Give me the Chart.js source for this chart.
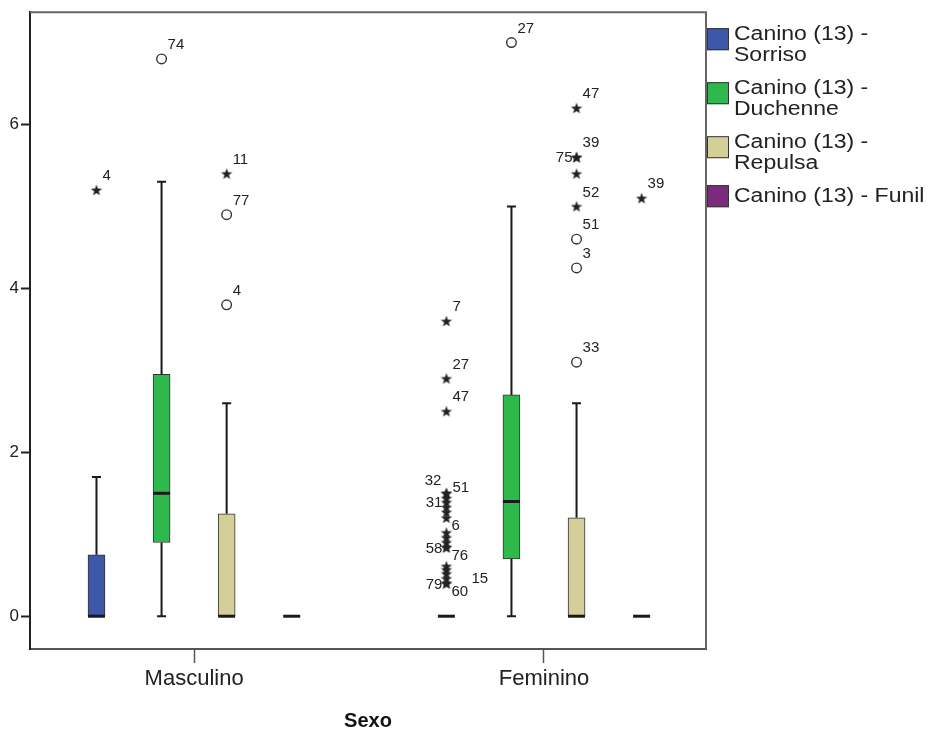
<!DOCTYPE html>
<html>
<head>
<meta charset="utf-8">
<script src="https://cdn.jsdelivr.net/npm/chart.js@4.4.1/dist/chart.umd.min.js"></script>
<style>
html, body { margin: 0; padding: 0; background: #fff; }
</style>
</head>
<body>
<canvas id="boxChart" width="929" height="735"></canvas>
<script>
const groups = ['Masculino', 'Feminino'];
const seriesNames = ['Canino (13) - Sorriso', 'Canino (13) - Duchenne', 'Canino (13) - Repulsa', 'Canino (13) - Funil'];
const seriesColors = ['#3d57a9', '#2fb84b', '#d4cf99', '#7b2a7c'];
const yTicks = [0, 2, 4, 6];

// box stats, one row per series: [Masculino, Feminino]
const mins    = [[0, 0], [0, 0], [0, 0], [0, 0]];
const q1s     = [[0, 0], [0.9, 0.7], [0, 0], [0, 0]];
const medians = [[0, 0], [1.5, 1.4], [0, 0], [0, 0]];
const q3s     = [[0.75, 0], [2.95, 2.7], [1.25, 1.2], [0, 0]];
const maxs    = [[1.7, 0], [5.3, 5.0], [2.6, 2.6], [0, 0]];

// outliers ('o') and extremes ('*') with their case numbers
const outlierValues = [
    [[5.2], [3.6, 2.9, 2.5, 1.5, 1.5, 1.44, 1.39, 1.33, 1.27, 1.2, 1.02, 0.96, 0.9, 0.84, 0.84, 0.61, 0.57, 0.52, 0.46, 0.4, 0.4]],
    [[6.8], [7.0]],
    [[5.4, 4.9, 3.8], [6.2, 5.6, 5.6, 5.4, 5.0, 4.6, 4.25, 3.1]],
    [[], [5.1]]
];
const outlierKinds = [
    [['*'], ['*', '*', '*', '*', '*', '*', '*', '*', '*', '*', '*', '*', '*', '*', '*', '*', '*', '*', '*', '*', '*']],
    [['o'], ['o']],
    [['*', 'o', 'o'], ['*', '*', '*', '*', '*', 'o', 'o', 'o']],
    [[], ['*']]
];
const outlierLabels = [
    [['4'], ['7', '27', '47', '32', '51', '', '31', '', '', '6', '', '', '', '58', '76', '', '', '', '15', '79', '60']],
    [['74'], ['27']],
    [['11', '77', '4'], ['47', '39', '75', '', '52', '51', '3', '33']],
    [[], ['39']]
];
// where each case number sits next to its marker
const labelPlaces = [
    [['ur'], ['ur', 'ur', 'ur', 'ul', 'r', '', 'l', '', '', 'dr', '', '', '', 'l', 'dr', '', '', '', 'far', 'l', 'dr']],
    [['ur'], ['ur']],
    [['ur', 'ur', 'ur'], ['ur', 'ur', 'l', '', 'ur', 'ur', 'ur', 'ur']],
    [[], ['ur']]
];
const placeOffsets = {
    ur: [6, -14, 'left'], ul: [-5, -12, 'right'], l: [-4, 1, 'right'],
    r: [6, -5, 'left'], dr: [5, 8, 'left'], far: [25, 0, 'left']
};

const slotWidth = 0.186;
const slots = [-1.5, -0.5, 0.5, 1.5].map(k => k * slotWidth);
const boxWidth = 17;
const FONT = '"Liberation Sans", Arial, sans-serif';

// small filled star for extreme values
const starImg = document.createElement('canvas');
starImg.width = 14; starImg.height = 14;
(function () {
    const c = starImg.getContext('2d');
    c.fillStyle = '#222';
    c.beginPath();
    for (let i = 0; i < 10; i++) {
        const r = i % 2 === 0 ? 6 : 2.4;
        const a = -Math.PI / 2 + i * Math.PI / 5;
        const px = 7 + r * Math.cos(a), py = 7.5 + r * Math.sin(a);
        if (i === 0) c.moveTo(px, py); else c.lineTo(px, py);
    }
    c.closePath();
    c.fill();
})();

const datasets = [];
seriesNames.forEach((name, s) => {
    datasets.push({
        type: 'bar',
        label: name,
        data: groups.map((g, gi) => ({ x: gi + 1 + slots[s], y: [q1s[s][gi], q3s[s][gi]] })),
        backgroundColor: seriesColors[s],
        borderColor: '#333',
        borderWidth: 1,
        borderSkipped: false,
        barThickness: boxWidth,
        grouped: false,
        order: 2
    });
});
seriesNames.forEach((name, s) => {
    const pts = [];
    groups.forEach((g, gi) => {
        outlierValues[s][gi].forEach((v, k) => {
            pts.push({ x: gi + 1 + slots[s], y: v, kind: outlierKinds[s][gi][k], label: outlierLabels[s][gi][k], place: labelPlaces[s][gi][k] });
        });
    });
    datasets.push({
        type: 'scatter',
        label: name + ' outliers',
        data: pts,
        pointStyle: (ctx) => (ctx.raw && ctx.raw.kind === '*') ? starImg : 'circle',
        pointRadius: 4.8,
        pointHoverRadius: 4.8,
        borderWidth: 1.4,
        borderColor: '#333',
        backgroundColor: '#fff',
        order: 1
    });
});

function wrapText(ctx, text, maxW, sx) {
    const words = text.split(' ');
    const lines = [];
    let cur = '';
    for (const w of words) {
        const test = cur ? cur + ' ' + w : w;
        if (ctx.measureText(test).width * sx > maxW && cur) {
            lines.push(cur);
            cur = w;
        } else {
            cur = test;
        }
    }
    if (cur) lines.push(cur);
    return lines;
}

const boxPlotPlugin = {
    id: 'boxPlotParts',
    afterDatasetsDraw(chart) {
        const ctx = chart.ctx;
        const xs = chart.scales.x, ys = chart.scales.y;
        ctx.save();
        ctx.strokeStyle = '#1a1a1a';
        seriesNames.forEach((name, s) => {
            groups.forEach((g, gi) => {
                const x = xs.getPixelForValue(gi + 1 + slots[s]);
                const yq1 = ys.getPixelForValue(q1s[s][gi]);
                const yq3 = ys.getPixelForValue(q3s[s][gi]);
                const yMin = ys.getPixelForValue(mins[s][gi]);
                const yMax = ys.getPixelForValue(maxs[s][gi]);
                ctx.lineWidth = 2;
                if (maxs[s][gi] > q3s[s][gi]) {
                    ctx.beginPath();
                    ctx.moveTo(x, yq3); ctx.lineTo(x, yMax);
                    ctx.moveTo(x - 4.5, yMax); ctx.lineTo(x + 4.5, yMax);
                    ctx.stroke();
                }
                if (mins[s][gi] < q1s[s][gi]) {
                    ctx.beginPath();
                    ctx.moveTo(x, yq1); ctx.lineTo(x, yMin);
                    ctx.moveTo(x - 4.5, yMin); ctx.lineTo(x + 4.5, yMin);
                    ctx.stroke();
                }
                const yMed = ys.getPixelForValue(medians[s][gi]);
                ctx.lineWidth = 3;
                ctx.beginPath();
                ctx.moveTo(x - boxWidth / 2, yMed); ctx.lineTo(x + boxWidth / 2, yMed);
                ctx.stroke();
            });
        });
        ctx.restore();
    },
    afterDraw(chart) {
        const ctx = chart.ctx;
        const area = chart.chartArea;
        ctx.save();
        // case-number labels
        ctx.font = '15px ' + FONT;
        ctx.fillStyle = '#222';
        ctx.textBaseline = 'middle';
        chart.data.datasets.forEach((ds, di) => {
            if (ds.type !== 'scatter') return;
            const meta = chart.getDatasetMeta(di);
            meta.data.forEach((el, j) => {
                const raw = ds.data[j];
                if (!raw.label) return;
                const off = placeOffsets[raw.place];
                ctx.textAlign = off[2];
                ctx.fillText(raw.label, el.x + off[0], el.y + off[1]);
            });
        });
        // top and right frame
        ctx.strokeStyle = '#666';
        ctx.lineWidth = 2;
        ctx.beginPath();
        ctx.moveTo(area.left, area.top); ctx.lineTo(area.right, area.top);
        ctx.lineTo(area.right, area.bottom);
        ctx.stroke();
        // legend
        const sx = 1.15;
        ctx.font = '20px ' + FONT;
        ctx.textAlign = 'left';
        ctx.textBaseline = 'middle';
        const lineH = 21;
        let top = area.top + 11;
        seriesNames.forEach((name, s) => {
            const lines = wrapText(ctx, name, 200, sx);
            const boxTop = top + (lines.length > 1 ? 5 : 0);
            ctx.fillStyle = seriesColors[s];
            ctx.fillRect(area.right + 1, boxTop, 22, 22);
            ctx.strokeStyle = '#333';
            ctx.lineWidth = 1;
            ctx.strokeRect(area.right + 1.5, boxTop + 0.5, 21, 21);
            ctx.fillStyle = '#222';
            lines.forEach((ln, k) => {
                ctx.save();
                ctx.translate(area.right + 28, top + 11 + k * lineH);
                ctx.scale(sx, 1);
                ctx.fillText(ln, 0, 0);
                ctx.restore();
            });
            top += lines.length * lineH + 12;
        });
        ctx.restore();
    }
};

new Chart(document.getElementById('boxChart').getContext('2d'), {
    type: 'bar',
    data: { datasets: datasets },
    options: {
        responsive: false,
        animation: false,
        events: [],
        layout: { padding: { top: 10, right: 223, left: 0, bottom: 0 } },
        plugins: {
            legend: { display: false },
            tooltip: { enabled: false }
        },
        scales: {
            x: {
                type: 'linear',
                min: 0.531,
                max: 2.463,
                offset: false,
                afterBuildTicks: (scale) => { scale.ticks = groups.map((g, i) => ({ value: i + 1 })); },
                afterFit: (scale) => { scale.height = 86; },
                ticks: {
                    callback: (v) => groups[v - 1],
                    font: { family: FONT, size: 22 },
                    color: '#222',
                    padding: 3,
                    maxRotation: 0,
                    autoSkip: false
                },
                grid: { display: true, offset: false, drawOnChartArea: false, drawTicks: true, tickLength: 14, tickColor: '#555', tickWidth: 1.5 },
                border: { display: true, color: '#555', width: 2 },
                title: {
                    display: true,
                    text: 'Sexo',
                    font: { family: FONT, size: 20, weight: 'bold' },
                    color: '#111',
                    padding: { top: 0, bottom: 2 }
                }
            },
            y: {
                min: -0.4,
                max: 7.37,
                afterBuildTicks: (scale) => { scale.ticks = yTicks.map(v => ({ value: v })); },
                afterFit: (scale) => { scale.width = 30; },
                ticks: {
                    font: { family: FONT, size: 17 },
                    color: '#222',
                    padding: 2
                },
                grid: { display: true, drawOnChartArea: false, drawTicks: true, tickLength: 9, tickColor: '#222', tickWidth: 2 },
                border: { display: true, color: '#222', width: 2 }
            }
        }
    },
    plugins: [boxPlotPlugin]
});
</script>
</body>
</html>
